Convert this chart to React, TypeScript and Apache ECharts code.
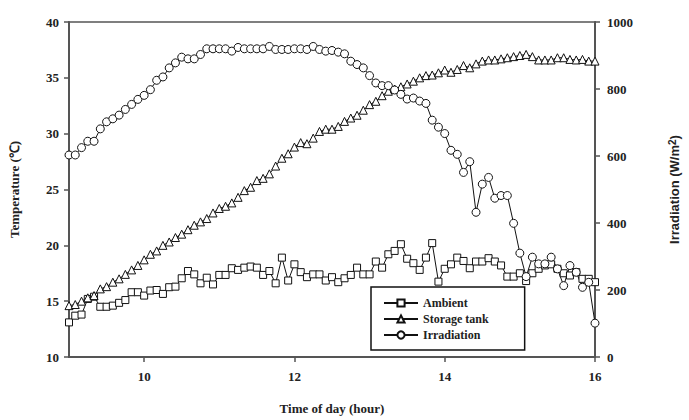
import React, { useEffect, useRef } from "react";
import * as echarts from "echarts";

// Sampling grid: every 5 minutes from 9:00 to 16:00
const timeHours: number[] = Array.from({ length: 85 }, (_, i) => 9 + i / 12);

const xTickValues = [10, 12, 14, 16];

const ambient = [
  13.1, 13.7, 13.8, 15.2, 15.4, 14.5, 14.5, 14.6, 14.85, 15.1,
  15.8, 15.8, 15.5, 15.95, 16.0, 15.65, 16.25, 16.3, 17.05, 17.7,
  17.4, 16.6, 17.1, 16.5, 17.35, 17.35, 17.95, 17.8, 18.0, 18.1,
  18.0, 17.35, 17.7, 16.6, 18.9, 16.85, 18.3, 17.6, 17.15, 17.4,
  17.4, 16.85, 17.15, 16.7, 17.05, 17.35, 18.0, 17.4, 17.4, 18.55,
  18.0, 19.2, 19.5, 20.1, 18.8, 18.4, 17.8, 18.9, 20.2, 16.75,
  17.9, 18.3, 18.9, 18.6, 17.95, 18.55, 18.55, 18.85, 18.55, 18.2,
  17.2, 17.2, 17.5, 16.8, 17.5, 17.9, 18.2, 18.3, 17.9, 17.5,
  17.3, 17.6, 17.0, 17.0, 16.7,
];

const storageTank = [
  14.6, 14.7, 15.0, 15.3, 15.5, 16.1, 16.3, 16.7, 17.0, 17.4,
  17.8, 18.2, 18.7, 19.2, 19.5, 20.0, 20.3, 20.7, 21.0, 21.4,
  21.8, 22.1, 22.4, 22.9, 23.3, 23.5, 23.8, 24.3, 24.9, 25.2,
  25.8, 26.0, 26.4, 27.1, 27.8, 28.2, 28.8, 29.2, 29.1, 29.6,
  30.2, 30.4, 30.4, 30.65, 31.1, 31.4, 31.65, 32.1, 32.6, 32.9,
  33.4, 33.8, 34.0, 34.2, 34.45, 34.7, 35.0, 35.2, 35.25, 35.45,
  35.7, 35.5, 35.75, 36.1, 35.9, 36.25, 36.5, 36.6, 36.6, 36.7,
  36.8, 36.9, 37.0, 37.1, 36.9, 36.6, 36.6, 36.6, 36.8, 36.8,
  36.65, 36.6, 36.65, 36.5, 36.5,
];

const irradiation = [
  603, 603, 625, 644, 644, 681, 702, 711, 722, 739,
  754, 769, 781, 798, 826, 836, 863, 878, 895, 890,
  890, 903, 920, 920, 920, 920, 913, 924, 920, 920,
  920, 920, 927, 918, 918, 918, 920, 920, 918, 927,
  918, 913, 915, 910, 905, 883, 873, 863, 840, 818,
  810, 810, 797, 784, 770, 773, 764, 757, 707, 686,
  667, 617, 605, 551, 583, 432, 516, 536, 474, 482,
  482, 399, 310, 240, 298, 278, 278, 298, 263, 213,
  273, 253, 208, 223, 101,
];

const seriesNames = ["Ambient", "Storage tank", "Irradiation"];

const pair = (vals: number[]) => vals.map((v, i) => [timeHours[i], v]);

const SERIF = "'Liberation Serif', 'Times New Roman', serif";
const SANS = "'Liberation Sans', Arial, sans-serif";
const AXIS_COLOR = "#555";
const TEXT_COLOR = "#222";

export default function App() {
  const ref = useRef<HTMLDivElement>(null);

  useEffect(() => {
    if (!ref.current) return;
    const chart = echarts.init(ref.current, undefined, { renderer: "svg" });

    const mkSeries = (name: string, data: number[], symbol: string, yAxisIndex: number, size: number) => ({
      name,
      type: "line",
      yAxisIndex,
      data: pair(data),
      symbol,
      symbolSize: size,
      showSymbol: true,
      lineStyle: { color: "#111", width: 1 },
      itemStyle: { color: "#fff", borderColor: "#111", borderWidth: 1 },
      emphasis: { disabled: true },
      z: 3,
    });

    chart.setOption({
      animation: false,
      backgroundColor: "#fff",
      grid: {
        left: 68,
        right: 94,
        top: 22,
        bottom: 61,
        show: true,
        borderColor: AXIS_COLOR,
        borderWidth: 1.5,
        backgroundColor: "transparent",
      },
      legend: {
        data: seriesNames,
        orient: "vertical",
        left: 371,
        top: 287,
        backgroundColor: "#fff",
        borderColor: "#111",
        borderWidth: 1.5,
        padding: [10, 36, 9, 12],
        itemGap: 4,
        itemWidth: 34,
        itemHeight: 9,
        textStyle: { fontFamily: SERIF, fontWeight: "bold", fontSize: 12, color: TEXT_COLOR },
      },
      xAxis: {
        type: "value",
        min: 9,
        max: 16,
        name: "Time of day (hour)",
        nameLocation: "middle",
        nameGap: 45,
        nameTextStyle: { fontFamily: SERIF, fontWeight: "bold", fontSize: 13, color: TEXT_COLOR },
        axisLine: { show: true, lineStyle: { color: AXIS_COLOR, width: 2 } },
        axisTick: { show: true, customValues: xTickValues, length: 5, lineStyle: { color: AXIS_COLOR, width: 1.5 } },
        axisLabel: {
          customValues: xTickValues,
          margin: 13,
          fontFamily: SERIF,
          fontWeight: "bold",
          fontSize: 13,
          color: TEXT_COLOR,
        },
        splitLine: { show: false },
      },
      yAxis: [
        {
          type: "value",
          min: 10,
          max: 40,
          interval: 5,
          position: "left",
          name: "Temperature (℃)",
          nameLocation: "middle",
          nameGap: 48,
          nameRotate: 90,
          nameTextStyle: { fontFamily: SERIF, fontWeight: "bold", fontSize: 13, color: TEXT_COLOR },
          axisLine: { show: true, lineStyle: { color: AXIS_COLOR, width: 2 } },
          axisTick: { show: true, length: 5, lineStyle: { color: AXIS_COLOR, width: 1.5 } },
          axisLabel: { margin: 10, fontFamily: SERIF, fontWeight: "bold", fontSize: 13, color: TEXT_COLOR },
          splitLine: { show: false },
        },
        {
          type: "value",
          min: 0,
          max: 1000,
          interval: 200,
          position: "right",
          name: "Irradiation (W/m{sup|2})",
          nameLocation: "middle",
          nameGap: 72,
          nameRotate: 90,
          nameTextStyle: {
            fontFamily: SANS,
            fontWeight: "bold",
            fontSize: 13,
            color: TEXT_COLOR,
            rich: {
              sup: { fontFamily: SANS, fontWeight: "bold", fontSize: 10, verticalAlign: "top", lineHeight: 14, color: TEXT_COLOR },
            },
          },
          axisLine: { show: true, lineStyle: { color: AXIS_COLOR, width: 2 } },
          axisTick: { show: true, length: 5, lineStyle: { color: AXIS_COLOR, width: 1.5 } },
          axisLabel: {
            margin: 12,
            fontFamily: SERIF,
            fontWeight: "bold",
            fontSize: 13,
            color: TEXT_COLOR,
            formatter: (v: number) => String(v),
          },
          splitLine: { show: false },
        },
      ],
      series: [
        mkSeries(seriesNames[0], ambient, "rect", 0, 7),
        mkSeries(seriesNames[1], storageTank, "triangle", 0, 8),
        mkSeries(seriesNames[2], irradiation, "circle", 1, 8),
      ],
    });

    return () => chart.dispose();
  }, []);

  return (
    <div
      ref={ref}
      style={{ position: "fixed", left: 0, top: 0, width: 689, height: 420, background: "#fff" }}
    />
  );
}
